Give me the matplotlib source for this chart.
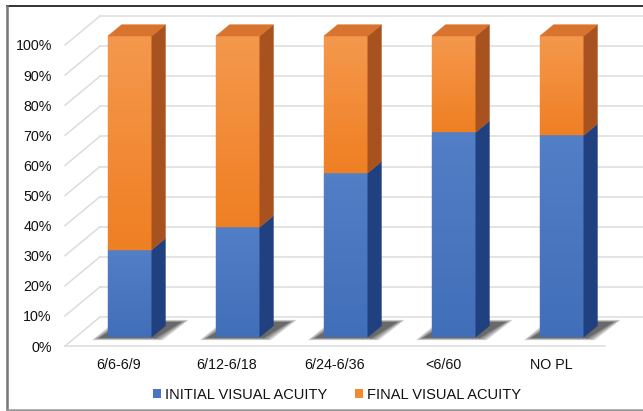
import matplotlib
matplotlib.use("Agg")
import matplotlib.pyplot as plt
from matplotlib.patches import Polygon, Patch
from matplotlib.lines import Line2D
from matplotlib.colors import to_rgb
import numpy as np

plt.rcParams['font.family'] = ['Liberation Sans', 'DejaVu Sans']

categories = ['6/6-6/9', '6/12-6/18', '6/24-6/36', '<6/60', 'NO PL']
initial_va = [29.0, 36.5, 54.5, 68.0, 67.0]
final_va = [100 - v for v in initial_va]
series_names = ['INITIAL VISUAL ACUITY', 'FINAL VISUAL ACUITY']
y_ticks = list(range(0, 101, 10))

# pseudo-3d geometry (category units / percent units)
DEPTH_X = 0.324     # full floor depth, x shift
DEPTH_Y = 9.63      # full floor depth, y shift
D_FRONT, D_BACK = 0.31, 0.70
BAR_W = 0.407

# front face is a ramp (top colour, bottom colour); side and top are flat
blue = dict(front=('#527ec6', '#416eb8'), side='#20407f', top='#3b68b3')
orange = dict(front=('#f4984d', '#ef7e22'), side='#a7521f', top='#d8742d')
legend_colors = ['#4a77c2', '#f28a2e']
grid_c = '#dcdcdc'

fig = plt.figure(figsize=(6.43, 4.11), dpi=100)
W, H = 643, 411
ax = fig.add_axes([65 / W, (H - 346) / H, 540 / W, 301 / H])
ax.set_xlim(-0.5, len(categories) - 0.5)
ax.set_ylim(0, 100)
for s in ax.spines.values():
    s.set_visible(False)


def shift(x, y, d):
    return x + d * DEPTH_X, y + d * DEPTH_Y


# back wall gridlines + left wall diagonals
x0 = -0.5
xb0, _ = shift(x0, 0, 1)
for v in y_ticks:
    _, yb = shift(x0, v, 1)
    ax.plot([xb0, 5.2], [yb, yb], color=grid_c, lw=1.1, clip_on=False, zorder=1)
    ax.plot([x0, xb0], [v, yb], color=grid_c, lw=1.1, clip_on=False, zorder=1)
ax.plot([x0, len(categories) - 0.5], [0, 0], color=grid_c, lw=1.1, clip_on=False, zorder=1)


def front_face(xl, xr, y0, y1, cols, n=24):
    c_top, c_bot = np.array(to_rgb(cols[0])), np.array(to_rgb(cols[1]))
    ys = np.linspace(y0, y1, n + 1)
    for k in range(n):
        c = c_bot + (c_top - c_bot) * (k + 0.5) / n
        ax.add_patch(Polygon([(xl, ys[k]), (xr, ys[k]), (xr, ys[k + 1]), (xl, ys[k + 1])],
                             closed=True, fc=c, ec=c, lw=0.3, zorder=5, clip_on=False))


def box(xl, xr, y0, y1, cols, top=True):
    fl, fb = shift(xl, y0, D_FRONT)
    fr, _ = shift(xr, y0, D_FRONT)
    _, ft = shift(xl, y1, D_FRONT)
    bl, bb = shift(xl, y0, D_BACK)
    br, _ = shift(xr, y0, D_BACK)
    _, bt = shift(xl, y1, D_BACK)
    front_face(fl, fr, fb, ft, cols['front'])
    ax.add_patch(Polygon([(fr, fb), (br, bb), (br, bt), (fr, ft)], closed=True,
                         fc=cols['side'], ec=cols['side'], lw=0.3, zorder=5, clip_on=False))
    if top:
        ax.add_patch(Polygon([(fl, ft), (fr, ft), (br, bt), (bl, bt)], closed=True,
                             fc=cols['top'], ec=cols['top'], lw=0.3, zorder=5, clip_on=False))


def shadow(xl, xr):
    # soft floor shadow around the bar base
    fl, fb = shift(xl, 0, D_FRONT)
    fr, _ = shift(xr, 0, D_FRONT)
    dx_px = 1 / 108.0
    dy_px = 1 / 3.01
    n = 7
    for k in range(n):
        g = (n - 1 - k) * 1.2
        pts = [(fl - (9 + g) * dx_px, fb - (1 + 0.3 * g) * dy_px),
               (fr + (4 + g) * dx_px, fb - (1 + 0.3 * g) * dy_px),
               (fr + (30 + g) * dx_px, fb + (15 + 0.3 * g) * dy_px),
               (fl + (16 - g) * dx_px, fb + (15 + 0.3 * g) * dy_px)]
        ax.add_patch(Polygon(pts, closed=True, fc='#2a2a2a', ec='none',
                             alpha=0.13 if k < n - 1 else 0.3, zorder=3, clip_on=False))


for i, (iv, fv) in enumerate(zip(initial_va, final_va)):
    xl, xr = i - BAR_W / 2, i + BAR_W / 2
    shadow(xl, xr)
    box(xl, xr, 0, iv, blue, top=False)
    box(xl, xr, iv, iv + fv, orange, top=True)

ax.set_yticks(y_ticks)
ax.set_yticklabels([f'{v}%' for v in y_ticks])
ax.set_xticks(range(len(categories)))
ax.set_xticklabels(categories)
ax.tick_params(axis='both', length=0, labelsize=10.3, colors='#111111')
ax.tick_params(axis='y', pad=9.5)
ax.tick_params(axis='x', pad=8.5)

handles = [Patch(fc=c, ec='none') for c in legend_colors]
fig.legend(handles, series_names, loc='center', bbox_to_anchor=(337 / W, (H - 395) / H),
           ncol=2, frameon=False, fontsize=10.5, handlelength=0.55, handleheight=0.55,
           handletextpad=0.25, columnspacing=1.9, labelcolor='#111111')

# outer frame
fig.add_artist(Line2D([6.5 / W, 1.0], [1 - 6 / H, 1 - 6 / H], color='#333333', lw=1.4))
fig.add_artist(Line2D([6.5 / W, 6.5 / W], [1 - 6 / H, 1 - 409.5 / H], color='#777777', lw=1.8))
fig.add_artist(Line2D([6.5 / W, 1.0], [1 - 409.5 / H, 1 - 409.5 / H], color='#999999', lw=1.8))

fig.savefig('out.png', dpi=100)
